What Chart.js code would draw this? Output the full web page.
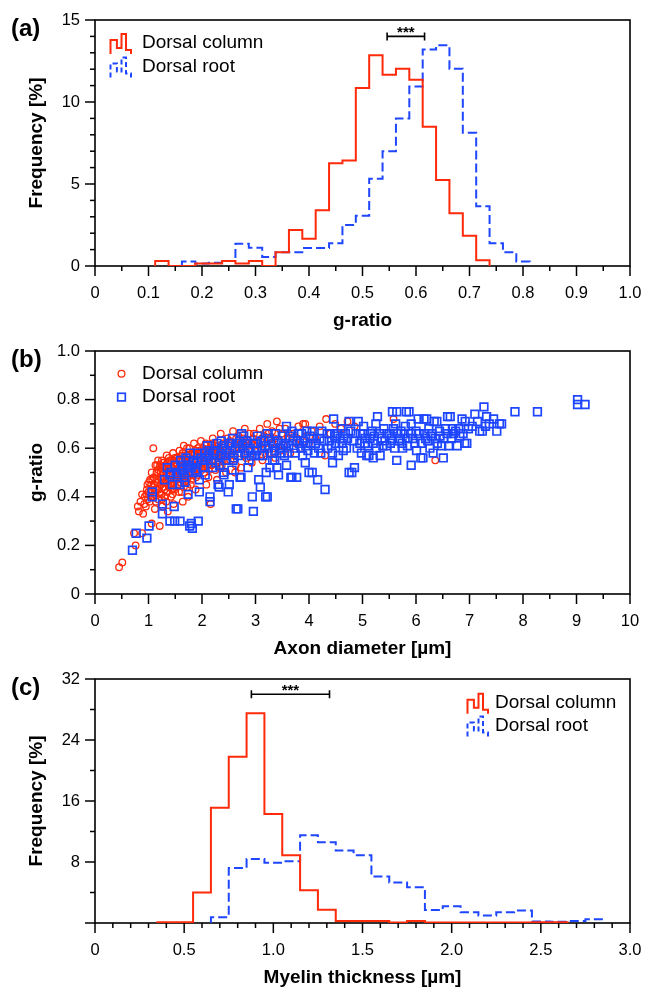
<!DOCTYPE html>
<html><head><meta charset="utf-8">
<script src="https://cdn.jsdelivr.net/npm/chart.js@4.4.1/dist/chart.umd.min.js"></script>
<style>
html,body{margin:0;padding:0;background:#fff;}
body{width:647px;height:993px;position:relative;overflow:hidden;}
.wrap{position:absolute;left:0;width:647px;}
canvas{display:block;}
</style></head><body>
<div class="wrap" style="top:0px;height:335px"><canvas id="ca" width="647" height="335"></canvas></div>
<div class="wrap" style="top:330px;height:335px"><canvas id="cb" width="647" height="335"></canvas></div>
<div class="wrap" style="top:660px;height:333px"><canvas id="cc" width="647" height="333"></canvas></div>
<script>
// ---------- Panel (a): g-ratio histogram (bin width 0.025) ----------
const gBinCentres = [0.125,0.15,0.175,0.2,0.225,0.25,0.275,0.3,0.325,0.35,0.375,0.4,0.425,0.45,0.475,0.5,0.525,0.55,0.575,0.6,0.625,0.65,0.675,0.7,0.725,0.75,0.775,0.8];
const gColumnFreq = [0.31,0,0,0.16,0.16,0.31,0.16,0.31,0,0.84,2.2,1.66,3.4,6.26,6.43,10.85,12.85,11.66,12.03,11.36,8.49,5.24,3.21,1.84,0.35,null,null,null];
const gRootFreq   = [null,null,0.27,0.16,0.2,0.3,1.35,1.12,0.55,0.84,0.84,1.1,1.1,1.39,2.5,3.07,5.32,7.0,9.0,10.95,13.2,13.46,12.03,8.12,3.64,1.39,0.84,0.27];
const gXTickLabels = ['0','0.1','0.2','0.3','0.4','0.5','0.6','0.7','0.8','0.9','1.0'];

// ---------- Panel (b): g-ratio vs axon diameter ----------
const columnPoints = [
[0.45,0.11],[0.51,0.13],[0.76,0.20],[0.73,0.25],[0.88,0.25],[1.06,0.29],[1.21,0.28],[1.09,0.60],
[0.80,0.36],[0.82,0.34],[0.85,0.38],[0.88,0.41],[0.90,0.33],[0.93,0.40],[0.95,0.36],[0.97,0.43],
[0.98,0.45],[1.00,0.42],[1.02,0.38],[1.03,0.47],[1.05,0.45],[1.08,0.40],[1.10,0.48],[1.12,0.35],
[1.13,0.53],[1.14,0.43],[1.15,0.50],[1.17,0.46],[1.18,0.39],[1.20,0.52],[1.20,0.44],[1.22,0.48],
[1.24,0.41],[1.25,0.55],[1.26,0.36],[1.27,0.46],[1.28,0.50],[1.30,0.43],[1.31,0.53],[1.33,0.38],
[1.34,0.57],[1.35,0.47],[1.36,0.34],[1.37,0.51],[1.38,0.44],[1.40,0.55],[1.41,0.49],[1.42,0.40],
[1.44,0.52],[1.45,0.46],[1.46,0.58],[1.47,0.37],[1.48,0.50],[1.49,0.43],[1.50,0.54],[1.52,0.48],
[1.53,0.56],[1.55,0.45],[1.56,0.52],[1.58,0.59],[1.60,0.50],[1.62,0.42],[1.63,0.55],[1.64,0.38],
[1.65,0.47],[1.66,0.61],[1.68,0.53],[1.70,0.49],[1.71,0.57],[1.73,0.44],[1.74,0.40],[1.75,0.52],
[1.76,0.60],[1.78,0.55],[1.80,0.47],[1.82,0.58],[1.84,0.51],[1.85,0.62],[1.87,0.54],[1.88,0.43],
[1.89,0.48],[1.90,0.57],[1.92,0.60],[1.94,0.52],[1.96,0.56],[1.98,0.63],[2.01,0.54],[2.03,0.59],
[2.05,0.50],[2.07,0.62],[2.08,0.45],[2.10,0.56],[2.12,0.48],[2.14,0.60],[2.16,0.37],[2.18,0.53],
[2.20,0.64],[2.22,0.57],[2.25,0.51],[2.27,0.61],[2.28,0.47],[2.30,0.55],[2.32,0.59],[2.35,0.66],
[2.37,0.53],[2.40,0.62],[2.42,0.57],[2.45,0.50],[2.47,0.64],[2.50,0.59],[2.53,0.55],[2.55,0.62],
[2.58,0.67],[2.60,0.57],[2.62,0.50],[2.63,0.53],[2.65,0.61],[2.68,0.65],[2.70,0.58],[2.73,0.52],
[2.75,0.63],[2.78,0.60],[2.80,0.68],[2.83,0.56],[2.85,0.62],[2.88,0.66],[2.90,0.59],[2.93,0.54],
[2.95,0.64],[2.98,0.61],[3.02,0.57],[3.05,0.63],[3.08,0.68],[3.10,0.60],[3.13,0.55],[3.16,0.65],
[3.19,0.62],[3.22,0.70],[3.25,0.58],[3.28,0.64],[3.31,0.67],[3.34,0.60],[3.37,0.56],[3.40,0.71],
[3.43,0.63],[3.46,0.59],[3.49,0.66],[3.52,0.61],[3.56,0.68],[3.60,0.64],[3.65,0.58],[3.70,0.66],
[3.75,0.62],[3.80,0.69],[3.85,0.60],[3.89,0.70],[3.93,0.70],[3.95,0.65],[4.00,0.62],[4.05,0.67],
[4.12,0.64],[4.20,0.69],[4.30,0.57],[4.32,0.72],[4.40,0.66],[4.49,0.70],[4.60,0.68],[4.72,0.71],
[4.85,0.69],[5.58,0.72],[6.36,0.55],
[1.16,0.47],[1.19,0.51],[1.23,0.45],[1.29,0.48],[1.32,0.46],[1.39,0.47],[1.43,0.45],[1.47,0.53],
[1.51,0.51],[1.54,0.47],[1.57,0.49],[1.61,0.53],[1.67,0.50],[1.72,0.47],[1.77,0.50],[1.81,0.53],
[1.86,0.50],[1.91,0.55],[1.97,0.53],[2.04,0.56],[2.11,0.53],[2.19,0.58],[2.26,0.57],[2.34,0.56],
[1.26,0.52],[1.36,0.54],[1.46,0.49],[1.59,0.46],
[0.92,0.37],[0.96,0.41],[0.99,0.39],[1.04,0.43],[1.06,0.50],[1.09,0.44],[1.11,0.41],[1.14,0.38],
[1.18,0.55],[1.21,0.42],[1.23,0.50],[1.25,0.39],[1.27,0.54],[1.30,0.51],[1.33,0.49],[1.35,0.42],
[1.38,0.56],[1.41,0.45],[1.43,0.55],[1.45,0.41],[1.49,0.56],[1.51,0.44],[1.54,0.53],[1.57,0.42],
[1.59,0.55],[1.61,0.48],[1.64,0.58],[1.66,0.44],[1.69,0.55],[1.72,0.60],[1.74,0.48],[1.77,0.56],
[1.79,0.45],[1.83,0.55],[1.86,0.58],[1.89,0.53],[1.93,0.49],[1.95,0.59],[1.99,0.51],[2.02,0.60],
[2.06,0.54],[2.09,0.59],[2.13,0.51],[2.17,0.61],[2.21,0.54],[2.24,0.62],[2.29,0.58],[2.33,0.52],
[2.38,0.58],[2.43,0.61],[2.48,0.55],[2.52,0.63],[2.57,0.59],[2.64,0.64],[2.72,0.62],[2.79,0.57],
[2.87,0.61],[2.97,0.66],[3.07,0.61],[3.18,0.58],[3.29,0.62],[3.45,0.68],[3.62,0.66],[3.78,0.64],
[1.01,0.46],[1.04,0.40],[1.07,0.47],[1.11,0.45],[1.13,0.41],[1.16,0.53],[1.19,0.43],[1.22,0.53],
[1.24,0.47],[1.28,0.44],[1.31,0.40],[1.34,0.50],[1.37,0.45],[1.40,0.52],[1.42,0.47],[1.44,0.43],
[1.47,0.55],[1.50,0.47],[1.53,0.51],[1.56,0.55],[1.58,0.48],[1.62,0.57],[1.65,0.52],[1.69,0.46],
[1.71,0.54],[1.75,0.57],[1.78,0.52],[1.82,0.49],[1.85,0.53],[1.88,0.59],[1.92,0.51],[1.96,0.58],
[2.00,0.57],[2.06,0.61],[2.13,0.57],[2.18,0.62],[2.23,0.60],[2.31,0.61],[2.39,0.55],[2.44,0.59],
[2.55,0.58],[2.61,0.62],[2.69,0.60],[2.77,0.64],[2.92,0.62],[3.12,0.64],[3.24,0.66],[3.36,0.64]
];
const rootPoints = [
[0.70,0.18],[0.77,0.25],[0.97,0.23],[1.01,0.28],[1.07,0.42],[1.07,0.40],[1.26,0.37],[1.26,0.33],
[1.40,0.30],[1.49,0.30],[1.59,0.30],[1.48,0.36],[1.77,0.28],[1.82,0.27],[1.80,0.29],[1.93,0.30],
[1.74,0.41],[1.40,0.49],[1.65,0.51],[1.68,0.46],[1.80,0.52],[1.67,0.48],[1.72,0.52],[1.91,0.54],
[1.95,0.47],[1.95,0.42],[1.30,0.47],[1.35,0.52],[1.42,0.50],[1.50,0.53],[1.55,0.49],[1.60,0.55],
[1.62,0.51],[1.70,0.56],[1.75,0.53],[1.78,0.58],[1.85,0.55],[1.88,0.51],[1.92,0.58],[1.98,0.56],
[2.02,0.52],[2.05,0.58],[2.08,0.56],[2.10,0.61],[2.15,0.40],[2.15,0.38],[2.18,0.55],[2.22,0.59],
[2.24,0.58],[2.28,0.62],[2.30,0.45],[2.32,0.44],[2.35,0.57],[2.38,0.60],[2.41,0.61],[2.41,0.49],
[2.45,0.55],[2.49,0.42],[2.51,0.45],[2.52,0.58],[2.55,0.62],[2.58,0.55],[2.62,0.60],[2.64,0.35],
[2.67,0.35],[2.68,0.57],[2.71,0.48],[2.73,0.48],[2.74,0.66],[2.76,0.61],[2.80,0.58],[2.84,0.63],
[2.88,0.55],[2.90,0.60],[2.94,0.40],[2.96,0.34],[2.96,0.62],[2.98,0.57],[3.02,0.59],[3.06,0.47],
[3.09,0.44],[3.10,0.63],[3.14,0.57],[3.18,0.61],[3.19,0.40],[3.22,0.40],[3.25,0.64],[3.27,0.52],
[3.30,0.58],[3.34,0.62],[3.40,0.52],[3.43,0.49],[3.45,0.60],[3.50,0.65],[3.54,0.57],[3.58,0.69],
[3.62,0.61],[3.66,0.48],[3.68,0.48],[3.70,0.63],[3.74,0.58],[3.77,0.48],[3.80,0.66],[3.85,0.60],
[3.90,0.63],[3.93,0.54],[3.96,0.67],[3.98,0.59],[4.00,0.50],[4.03,0.62],[4.06,0.67],[4.06,0.50],
[4.10,0.58],[4.16,0.47],[4.20,0.64],[4.30,0.43],[4.35,0.60],[4.40,0.66],[4.46,0.72],[4.50,0.62],
[4.55,0.57],[4.60,0.68],[4.65,0.64],[4.70,0.60],[4.75,0.71],[4.75,0.50],[4.80,0.50],[4.85,0.52],
[4.88,0.66],[4.92,0.71],[4.95,0.62],[4.98,0.58],[5.02,0.69],[5.05,0.64],[5.08,0.57],[5.12,0.57],
[5.15,0.66],[5.20,0.62],[5.25,0.70],[5.28,0.73],[5.33,0.57],[5.36,0.64],[5.40,0.68],[5.45,0.61],
[5.50,0.66],[5.56,0.75],[5.62,0.70],[5.64,0.75],[5.64,0.55],[5.68,0.63],[5.72,0.67],[5.75,0.60],
[5.80,0.69],[5.82,0.75],[5.85,0.64],[5.87,0.75],[5.91,0.70],[5.91,0.53],[5.98,0.62],[6.01,0.59],
[6.04,0.72],[6.09,0.56],[6.13,0.56],[6.15,0.72],[6.20,0.72],[6.26,0.60],[6.30,0.66],[6.32,0.58],
[6.34,0.71],[6.39,0.71],[6.45,0.65],[6.51,0.56],[6.55,0.68],[6.59,0.73],[6.61,0.61],[6.64,0.73],
[6.70,0.66],[6.77,0.61],[6.82,0.65],[6.86,0.72],[6.91,0.62],[6.92,0.71],[6.95,0.62],[7.10,0.74],
[7.19,0.67],[7.24,0.67],[7.27,0.77],[7.32,0.73],[7.37,0.70],[7.51,0.67],[7.56,0.70],[7.60,0.70],
[7.85,0.75],[8.27,0.75],[9.02,0.80],[9.02,0.78],[9.16,0.78],
[2.12,0.57],[2.26,0.54],[2.36,0.63],[2.46,0.59],[2.57,0.64],[2.66,0.62],[2.78,0.65],[2.86,0.59],
[3.04,0.65],[3.12,0.60],[3.22,0.66],[3.32,0.55],[3.38,0.66],[3.48,0.58],[3.56,0.62],[3.64,0.65],
[3.72,0.60],[3.82,0.62],[3.88,0.57],[4.08,0.64],[4.18,0.60],[4.24,0.67],[4.38,0.63],[4.44,0.58],
[4.52,0.66],[4.62,0.62],[4.68,0.66],[4.84,0.63],[5.00,0.66],[5.10,0.61],[5.18,0.67],[5.32,0.66],
[5.42,0.63],[5.52,0.62],[5.58,0.68],[5.70,0.64],[5.78,0.66],[5.90,0.66],[6.06,0.66],[6.18,0.64],
[6.24,0.68],[6.40,0.62],[6.52,0.64],[6.68,0.68],[6.80,0.68],
[1.45,0.45],[1.52,0.50],[1.58,0.45],[1.63,0.53],[1.73,0.50],[1.83,0.54],[1.90,0.50],[2.00,0.55],
[2.06,0.49],[2.14,0.59],[2.20,0.52],[2.33,0.53],[2.43,0.57],[2.50,0.62],[2.60,0.56],[2.70,0.60],
[2.82,0.62],[2.92,0.57],[3.00,0.62],[3.08,0.57],[3.16,0.63],[3.24,0.60],[3.36,0.59],[3.42,0.63],
[3.52,0.61],[3.60,0.58],[3.68,0.67],[3.78,0.63],[3.86,0.66],[3.94,0.61],[4.02,0.65],[4.12,0.62],
[4.22,0.58],[4.28,0.63],[4.34,0.66],[4.42,0.61],[4.48,0.65],[4.58,0.64],[4.64,0.59],[4.72,0.64],
[4.78,0.67],[4.90,0.60],[4.96,0.66],[5.04,0.62],[5.14,0.64],[5.22,0.65],[5.26,0.60],[5.38,0.61],
[5.46,0.66],[5.54,0.64],[5.60,0.60],[5.66,0.66],[5.74,0.62],[5.84,0.61],[5.94,0.64],[6.00,0.67],
[6.10,0.62],[6.16,0.66],[6.22,0.63],[6.28,0.65],[6.36,0.64],[6.44,0.67],[6.48,0.61],[6.58,0.66],
[6.66,0.64],[6.74,0.67],[6.88,0.66],[6.98,0.68],[7.05,0.69],[7.15,0.71],[7.30,0.69],[7.45,0.72],
[2.40,0.50],[2.56,0.51],[2.86,0.52],[3.36,0.55],[3.20,0.50],[3.58,0.53],[4.44,0.54],[5.20,0.56]
];

// ---------- Panel (c): myelin thickness histogram (bin width 0.1) ----------
const mBinCentres = [0.4,0.5,0.6,0.7,0.8,0.9,1.0,1.1,1.2,1.3,1.4,1.5,1.6,1.7,1.8,1.9,2.0,2.1,2.2,2.3,2.4,2.5,2.6,2.7,2.8];
const mColumnFreq = [0.1,0.1,4.0,15.1,21.8,27.5,14.3,8.9,4.3,1.75,0.25,0.25,0.25,0.05,0.25,0.05,0.05,0.05,0.05,0.05,0.05,0.1,0.1,null,null];
const mRootFreq   = [null,null,null,0.75,7.2,8.4,7.9,8.1,11.5,10.6,9.5,8.9,6.1,5.3,4.7,1.7,2.2,1.4,1.0,1.4,1.65,0.2,0.15,0.25,0.5];

const seriesNames = ['Dorsal column','Dorsal root'];

// ---------- styling ----------
const FONT = "'Liberation Sans', Arial, Helvetica, sans-serif";
Chart.defaults.font.family = FONT;
Chart.defaults.color = '#000';
const RED = '#ff2a0a';
const BLUE = '#1e46ff';

function stepPoints(centres, vals){
  const w = centres[1]-centres[0];
  const pts = [];
  let lastR = null, lastV = null;
  for (let i=0;i<centres.length;i++){
    const v = vals[i];
    if (v === null || v === undefined) continue;
    const L = centres[i]-w/2;
    if (lastR === null) pts.push({x:L,y:0});
    pts.push({x:L,y:v});
    lastR = centres[i]+w/2; lastV = v;
  }
  pts.push({x:lastR,y:lastV});
  pts.push({x:lastR,y:0});
  return pts;
}

function histIcon(ctx, x, y, color, dashed){
  ctx.save();
  ctx.strokeStyle = color; ctx.lineWidth = 2;
  if (dashed) ctx.setLineDash([5,3]);
  const p = [[0,20],[0,6],[6.4,6],[6.4,14],[11,14],[11,0],[15.5,0],[15.5,16],[20.5,16],[20.5,20]];
  ctx.beginPath();
  p.forEach((q,i)=>{ i?ctx.lineTo(x+q[0],y+q[1]):ctx.moveTo(x+q[0],y+q[1]); });
  ctx.stroke();
  ctx.restore();
}

const decor = {
  id:'decor',
  beforeDatasetsDraw(chart, args, o){
    const {ctx, chartArea:a, scales} = chart;
    ctx.save();
    ctx.strokeStyle = '#000';
    ctx.lineWidth = 1.6;
    ctx.strokeRect(a.left, a.top, a.right-a.left, a.bottom-a.top);
    const eps = 1e-6;
    const drawTicks = (sc, t, horiz) => {
      const n = Math.round((t.max - t.min)/t.minor);
      for (let k=0;k<=n;k++){
        const v = t.min + k*t.minor;
        const r = v/t.major;
        const isMajor = Math.abs(r-Math.round(r)) < eps;
        const len = isMajor ? 10 : 5;
        const p = sc.getPixelForValue(v);
        ctx.beginPath();
        if (horiz){ ctx.moveTo(p, a.bottom); ctx.lineTo(p, a.bottom+len); }
        else { ctx.moveTo(a.left, p); ctx.lineTo(a.left-len, p); }
        ctx.stroke();
      }
    };
    ctx.lineWidth = 1.5;
    drawTicks(scales.x, o.xTicks, true);
    drawTicks(scales.y, o.yTicks, false);
    ctx.restore();
  },
  afterDraw(chart, args, o){
    const {ctx, scales} = chart;
    ctx.save();
    ctx.fillStyle = '#000';
    ctx.font = `bold 24px ${FONT}`;
    ctx.textBaseline = 'alphabetic';
    ctx.textAlign = 'left';
    ctx.fillText(o.panel, 11, o.panelY);
    ctx.font = `19px ${FONT}`;
    ctx.textBaseline = 'middle';
    o.legend.items.forEach((it, i) => {
      const ty = o.legend.y + i*o.legend.dy;
      if (it.kind === 'hist') histIcon(ctx, o.legend.iconX, ty-9, it.color, it.dashed);
      else if (it.kind === 'circle'){
        ctx.strokeStyle = it.color; ctx.lineWidth = 1.3;
        ctx.beginPath(); ctx.arc(o.legend.iconX, ty, 3.4, 0, Math.PI*2); ctx.stroke();
      } else {
        ctx.strokeStyle = it.color; ctx.lineWidth = 1.7;
        ctx.strokeRect(o.legend.iconX-3.8, ty-3.8, 7.6, 7.6);
      }
      ctx.fillStyle = '#000';
      ctx.fillText(it.text, o.legend.textX, ty);
    });
    if (o.bracket){
      const b = o.bracket;
      const x1 = scales.x.getPixelForValue(b.x1), x2 = scales.x.getPixelForValue(b.x2);
      const y = scales.y.getPixelForValue(b.y);
      ctx.strokeStyle = '#000'; ctx.lineWidth = 1.6;
      ctx.beginPath();
      ctx.moveTo(x1,y); ctx.lineTo(x2,y);
      ctx.moveTo(x1,y-4); ctx.lineTo(x1,y+4);
      ctx.moveTo(x2,y-4); ctx.lineTo(x2,y+4);
      ctx.stroke();
      ctx.font = `bold 15px ${FONT}`;
      ctx.textAlign = 'center';
      ctx.textBaseline = 'alphabetic';
      ctx.fillText('***', (x1+x2)/2, y+1);
    }
    ctx.restore();
  }
};

function axisCommon(){
  return { type:'linear', grid:{display:false, drawTicks:false}, border:{display:false} };
}

function makeChart(id, cfg){
  const H = document.getElementById(id).height;
  return new Chart(document.getElementById(id), {
    type: cfg.type,
    data: {datasets: cfg.datasets},
    options: {
      responsive:false, animation:false, events:[],
      layout:{padding:{top:cfg.top, right:17, left:0, bottom:0}},
      plugins:{legend:{display:false}, tooltip:{enabled:false}, decor:cfg.decor},
      scales:{
        x: Object.assign(axisCommon(), {
          min:cfg.x.min, max:cfg.x.max,
          afterFit(s){ s.height = H - cfg.bottom; s.paddingLeft = 0; s.paddingRight = 0; },
          ticks:{stepSize:cfg.x.step, autoSkip:false, maxRotation:0, padding:18, font:{size:16.5}, color:'#000',
                 callback:cfg.x.label},
          title:{display:true, text:cfg.x.title, font:{size:19, weight:'bold'}, color:'#000',
                 padding:{top:0, bottom: (H-(cfg.bottom+55)) - 11.4}}
        }),
        y: Object.assign(axisCommon(), {
          min:cfg.y.min, max:cfg.y.max,
          afterFit(s){ s.width = 95; s.paddingTop = 0; s.paddingBottom = 0; },
          ticks:{stepSize:cfg.y.step, autoSkip:false, padding:15, font:{size:16.5}, color:'#000',
                 callback:cfg.y.label},
          title:{display:true, text:cfg.y.title, font:{size:19, weight:'bold'}, color:'#000',
                 padding:{top:36.5-11.4, bottom:0}}
        })
      }
    },
    plugins:[decor]
  });
}

const fmt1 = v => (Math.abs(v)<1e-9 ? '0' : v.toFixed(1));

makeChart('ca', {
  type:'line', top:20, bottom:266,
  datasets:[
    {label:seriesNames[0], data:stepPoints(gBinCentres,gColumnFreq), stepped:'before', borderColor:RED, borderWidth:2, pointRadius:0, fill:false},
    {label:seriesNames[1], data:stepPoints(gBinCentres,gRootFreq), stepped:'before', borderColor:BLUE, borderWidth:2, borderDash:[9,4], pointRadius:0, fill:false}
  ],
  x:{min:0,max:1,step:0.1,label:(v,i)=>gXTickLabels[i] ?? fmt1(v), title:'g-ratio'},
  y:{min:0,max:15,step:5,label:v=>String(Math.round(v)), title:'Frequency [%]'},
  decor:{panel:'(a)', panelY:36,
    xTicks:{min:0,max:1,minor:0.05,major:0.1}, yTicks:{min:0,max:15,minor:1,major:5},
    legend:{iconX:110.5, textX:142, y:43, dy:23.5, items:[
      {kind:'hist', color:RED, dashed:false, text:seriesNames[0]},
      {kind:'hist', color:BLUE, dashed:true, text:seriesNames[1]}]},
    bracket:{x1:0.546, x2:0.616, y:14.0}}
});

makeChart('cb', {
  type:'scatter', top:21, bottom:264,
  datasets:[
    {label:seriesNames[0], data:columnPoints.map(p=>({x:p[0],y:p[1]})), pointStyle:'circle', pointRadius:3.3, borderColor:RED, borderWidth:1.3, backgroundColor:'rgba(0,0,0,0)', order:2},
    {label:seriesNames[1], data:rootPoints.map(p=>({x:p[0],y:p[1]})), pointStyle:'rect', pointRadius:5.4, borderColor:BLUE, borderWidth:1.7, backgroundColor:'rgba(0,0,0,0)', order:1}
  ],
  x:{min:0,max:10,step:1,label:v=>String(Math.round(v)), title:'Axon diameter [µm]'},
  y:{min:0,max:1,step:0.2,label:fmt1, title:'g-ratio'},
  decor:{panel:'(b)', panelY:37,
    xTicks:{min:0,max:10,minor:0.5,major:1}, yTicks:{min:0,max:1,minor:0.1,major:0.2},
    legend:{iconX:121.5, textX:142, y:43.7, dy:23.4, items:[
      {kind:'circle', color:RED, text:seriesNames[0]},
      {kind:'rect', color:BLUE, text:seriesNames[1]}]}}
});

makeChart('cc', {
  type:'line', top:19, bottom:263,
  datasets:[
    {label:seriesNames[0], data:stepPoints(mBinCentres,mColumnFreq), stepped:'before', borderColor:RED, borderWidth:2, pointRadius:0, fill:false},
    {label:seriesNames[1], data:stepPoints(mBinCentres,mRootFreq), stepped:'before', borderColor:BLUE, borderWidth:2, borderDash:[9,4], pointRadius:0, fill:false}
  ],
  x:{min:0,max:3,step:0.5,label:fmt1, title:'Myelin thickness [µm]'},
  y:{min:0,max:32,step:8,label:v=>(v<1e-9?'':String(Math.round(v))), title:'Frequency [%]'},
  decor:{panel:'(c)', panelY:35,
    xTicks:{min:0,max:3,minor:0.1,major:0.5}, yTicks:{min:0,max:32,minor:4,major:8},
    legend:{iconX:467.5, textX:495, y:42.7, dy:22.8, items:[
      {kind:'hist', color:RED, dashed:false, text:seriesNames[0]},
      {kind:'hist', color:BLUE, dashed:true, text:seriesNames[1]}]},
    bracket:{x1:0.877, x2:1.315, y:30.0}}
});
</script>
</body></html>
